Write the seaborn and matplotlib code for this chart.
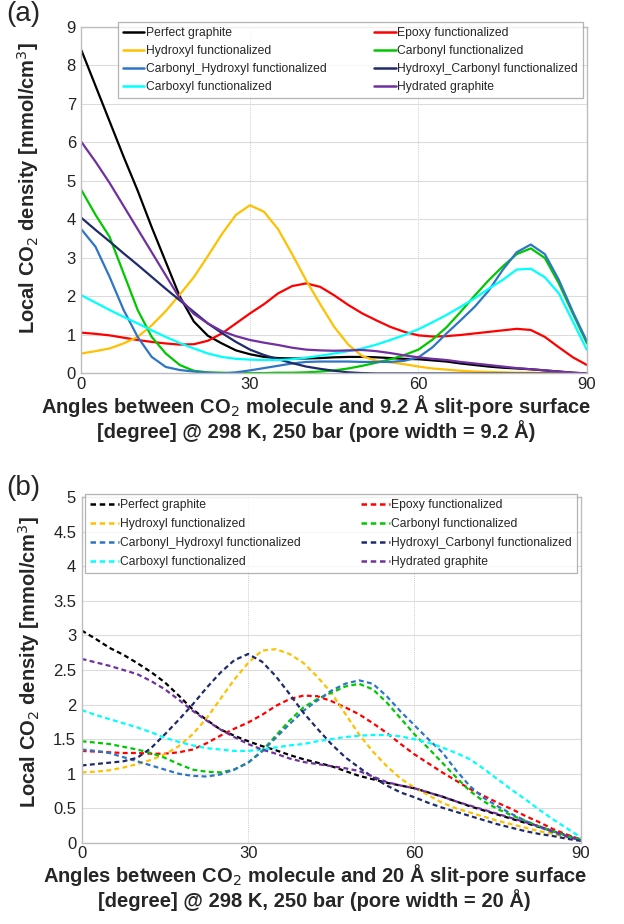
import numpy as np
import pandas as pd
import seaborn as sns
import matplotlib.pyplot as plt
from matplotlib.lines import Line2D

# angle grid (degrees), shared by every curve
angles = np.arange(0, 90.1, 2.5)

names = ["Perfect graphite", "Epoxy functionalized", "Hydroxyl functionalized",
         "Carbonyl functionalized", "Carbonyl_Hydroxyl functionalized",
         "Hydroxyl_Carbonyl functionalized", "Carboxyl functionalized",
         "Hydrated graphite"]
colors = ["#000000", "#FF0000", "#FFC000", "#00C800",
          "#2E75C6", "#1F2A6B", "#00FFFF", "#7030A0"]

# (a) 9.2 A pore
perfect_a = [8.39, 7.47, 6.55, 5.63, 4.75, 3.8, 2.9, 2.0, 1.35, 0.98, 0.78, 0.6, 0.5, 0.43, 0.4, 0.39, 0.39, 0.4, 0.42,
             0.43, 0.43, 0.42, 0.4, 0.38, 0.37, 0.34, 0.31, 0.26, 0.22, 0.18, 0.15, 0.13, 0.11, 0.08, 0.05, 0.02, 0.0]
epoxy_a = [1.06, 1.03, 0.99, 0.93, 0.87, 0.82, 0.78, 0.75, 0.76, 0.85, 1.04, 1.3, 1.56, 1.8, 2.08, 2.27, 2.34, 2.25, 2.03,
           1.78, 1.56, 1.38, 1.21, 1.08, 0.99, 0.96, 0.97, 1.0, 1.04, 1.08, 1.12, 1.16, 1.13, 0.95, 0.68, 0.42, 0.22]
hydroxyl_a = [0.52, 0.58, 0.65, 0.78, 0.95, 1.25, 1.62, 2.05, 2.5, 3.05, 3.62, 4.12, 4.37, 4.2, 3.75, 3.1, 2.42, 1.8, 1.21,
              0.75, 0.45, 0.33, 0.29, 0.24, 0.18, 0.13, 0.1, 0.07, 0.05, 0.04, 0.03, 0.02, 0.02, 0.01, 0.01, 0.0, 0.0]
carbonyl_a = [4.76, 4.12, 3.55, 2.6, 1.65, 0.95, 0.52, 0.22, 0.07, 0.03, 0.02, 0.01, 0.01, 0.01, 0.02, 0.02, 0.03, 0.05, 0.08,
              0.13, 0.2, 0.28, 0.37, 0.48, 0.62, 0.88, 1.2, 1.6, 2.02, 2.42, 2.78, 3.1, 3.25, 3.0, 2.34, 1.55, 0.78]
carb_hyd_a = [3.74, 3.29, 2.51, 1.65, 0.95, 0.43, 0.17, 0.09, 0.05, 0.02, 0.0, 0.03, 0.08, 0.14, 0.2, 0.26, 0.3, 0.31, 0.31,
              0.31, 0.3, 0.3, 0.3, 0.33, 0.42, 0.68, 1.04, 1.38, 1.73, 2.15, 2.69, 3.15, 3.35, 3.1, 2.43, 1.6, 0.83]
hyd_carb_a = [4.04, 3.73, 3.43, 3.12, 2.82, 2.51, 2.2, 1.9, 1.6, 1.3, 1.05, 0.82, 0.62, 0.48, 0.37, 0.27, 0.18, 0.12, 0.07,
              0.03, 0.01, 0.0, 0.0, 0.0, 0.0, 0.0, 0.0, 0.0, 0.0, 0.0, 0.0, 0.0, 0.0, 0.0, 0.0, 0.0, 0.0]
carboxyl_a = [2.03, 1.84, 1.65, 1.47, 1.3, 1.12, 0.95, 0.79, 0.65, 0.52, 0.43, 0.38, 0.36, 0.35, 0.35, 0.37, 0.41, 0.46, 0.52,
              0.58, 0.65, 0.75, 0.87, 1.0, 1.15, 1.33, 1.52, 1.73, 1.95, 2.2, 2.43, 2.7, 2.72, 2.5, 2.08, 1.35, 0.61]
hydrated_a = [6.01, 5.5, 4.95, 4.35, 3.75, 3.15, 2.55, 1.95, 1.55, 1.3, 1.1, 0.97, 0.87, 0.8, 0.74, 0.67, 0.62, 0.6, 0.59,
              0.6, 0.61, 0.58, 0.53, 0.47, 0.42, 0.38, 0.35, 0.3, 0.26, 0.22, 0.18, 0.14, 0.11, 0.08, 0.05, 0.02, 0.0]

# (b) 20 A pore
perfect_b = [3.07, 2.95, 2.82, 2.72, 2.6, 2.47, 2.32, 2.13, 1.93, 1.78, 1.64, 1.55, 1.47, 1.4, 1.34, 1.27, 1.21, 1.16, 1.11,
             1.04, 0.97, 0.92, 0.87, 0.83, 0.79, 0.73, 0.67, 0.6, 0.53, 0.47, 0.41, 0.35, 0.29, 0.23, 0.17, 0.11, 0.05]
epoxy_b = [1.33, 1.32, 1.31, 1.3, 1.3, 1.29, 1.29, 1.31, 1.35, 1.44, 1.55, 1.65, 1.74, 1.85, 1.98, 2.08, 2.13, 2.12, 2.05,
           1.96, 1.86, 1.73, 1.59, 1.43, 1.28, 1.15, 1.02, 0.9, 0.78, 0.68, 0.58, 0.49, 0.39, 0.3, 0.2, 0.12, 0.05]
hydroxyl_b = [1.02, 1.03, 1.05, 1.09, 1.14, 1.2, 1.28, 1.4, 1.57, 1.8, 2.08, 2.36, 2.6, 2.78, 2.8, 2.73, 2.6, 2.4, 2.17,
              1.87, 1.57, 1.32, 1.11, 0.93, 0.8, 0.69, 0.58, 0.5, 0.44, 0.38, 0.32, 0.27, 0.22, 0.17, 0.13, 0.08, 0.04]
carbonyl_b = [1.47, 1.45, 1.43, 1.39, 1.35, 1.3, 1.23, 1.14, 1.06, 1.03, 1.02, 1.06, 1.16, 1.33, 1.55, 1.77, 1.96, 2.08, 2.17,
              2.26, 2.3, 2.22, 2.03, 1.8, 1.57, 1.37, 1.16, 0.95, 0.75, 0.6, 0.49, 0.4, 0.32, 0.24, 0.17, 0.1, 0.05]
carb_hyd_b = [1.35, 1.33, 1.3, 1.24, 1.18, 1.12, 1.06, 1.0, 0.97, 0.96, 0.99, 1.06, 1.16, 1.32, 1.52, 1.72, 1.91, 2.06, 2.2,
              2.3, 2.35, 2.3, 2.12, 1.9, 1.7, 1.5, 1.31, 1.05, 0.82, 0.65, 0.53, 0.42, 0.32, 0.23, 0.15, 0.09, 0.04]
hyd_carb_b = [1.12, 1.14, 1.16, 1.18, 1.23, 1.37, 1.57, 1.78, 2.0, 2.24, 2.46, 2.64, 2.73, 2.62, 2.41, 2.15, 1.88, 1.65, 1.43,
              1.24, 1.09, 0.95, 0.83, 0.73, 0.66, 0.58, 0.51, 0.45, 0.39, 0.33, 0.27, 0.22, 0.17, 0.13, 0.1, 0.06, 0.03]
carboxyl_b = [1.92, 1.85, 1.79, 1.73, 1.67, 1.6, 1.52, 1.46, 1.41, 1.37, 1.35, 1.33, 1.33, 1.35, 1.38, 1.41, 1.43, 1.47, 1.5,
              1.53, 1.55, 1.56, 1.56, 1.54, 1.5, 1.45, 1.38, 1.3, 1.21, 1.07, 0.92, 0.77, 0.63, 0.48, 0.34, 0.21, 0.08]
hydrated_b = [2.66, 2.61, 2.56, 2.5, 2.44, 2.34, 2.22, 2.07, 1.91, 1.77, 1.64, 1.53, 1.43, 1.35, 1.29, 1.22, 1.17, 1.14, 1.11,
              1.08, 1.04, 0.96, 0.88, 0.83, 0.79, 0.73, 0.67, 0.6, 0.54, 0.48, 0.42, 0.36, 0.3, 0.24, 0.17, 0.1, 0.04]

series_a = [perfect_a, epoxy_a, hydroxyl_a, carbonyl_a, carb_hyd_a, hyd_carb_a, carboxyl_a, hydrated_a]
series_b = [perfect_b, epoxy_b, hydroxyl_b, carbonyl_b, carb_hyd_b, hyd_carb_b, carboxyl_b, hydrated_b]


def to_long(series):
    frames = [pd.DataFrame({"angle": angles, "density": vals, "structure": n})
              for n, vals in zip(names, series)]
    return pd.concat(frames, ignore_index=True)


sns.set_theme(style="whitegrid")
plt.rcParams["font.family"] = ["Liberation Sans", "DejaVu Sans"]

fig = plt.figure(figsize=(6.24, 9.24), dpi=100)
ax_a = fig.add_axes([0.1306, 0.5958, 0.810, 0.375])
ax_b = fig.add_axes([0.1309, 0.0877, 0.800, 0.3745])

palette = dict(zip(names, colors))
# legend order: two columns, filled column by column
leg_order = [0, 2, 4, 6, 1, 3, 5, 7]


def style_axes(ax, ymax, ystep, dashed, size_tag, leg_box, handlelen, labsp, xl_pos, yl_pos):
    ax.set_xlim(0, 90)
    ax.set_ylim(0, ymax)
    ax.set_xticks([0, 30, 60, 90])
    ax.set_yticks(np.arange(0, ymax + 0.01, ystep))
    ax.yaxis.set_major_formatter(plt.FormatStrFormatter("%g"))
    ax.tick_params(axis="both", length=0, labelsize=12, colors="#222222", pad=4)
    ax.tick_params(axis="x", pad=2.5)
    ax.grid(True, color="#dcdcdc", linewidth=0.8)
    ax.grid(True, axis="x", color="#cfcfcf", linewidth=0.7, linestyle=(0, (1, 1)))
    ax.set_axisbelow(True)
    for s in ax.spines.values():
        s.set_color("#bdbdbd")
        s.set_linewidth(1.0)
    ax.set_xlabel("Angles between CO$_2$ molecule and %s slit-pore surface\n"
                  "[degree] @ 298 K, 250 bar (pore width = %s)" % (size_tag, size_tag),
                  fontsize=14.5, fontweight="bold", linespacing=1.05, va="top")
    ax.xaxis.set_label_coords(*xl_pos)
    ax.set_ylabel("Local CO$_2$ density [mmol/cm$^3$]", fontsize=14.5, fontweight="bold")
    ax.yaxis.set_label_coords(*yl_pos)
    ls = (0, (2.2, 1.5)) if dashed else "-"
    handles = [Line2D([], [], color=colors[i], lw=1.8, linestyle=ls) for i in leg_order]
    labels = [names[i] for i in leg_order]
    leg = ax.legend(handles, labels, ncol=2, loc="lower left", bbox_to_anchor=leg_box,
                    mode="expand", borderaxespad=0, fontsize=8.7, handlelength=handlelen,
                    handletextpad=0.1, labelspacing=labsp, frameon=True, fancybox=False,
                    borderpad=0.4)
    leg.get_frame().set_edgecolor("#a0a0a0")
    leg.get_frame().set_linewidth(0.9)


sns.lineplot(data=to_long(series_a), x="angle", y="density", hue="structure",
             hue_order=names, palette=palette, linewidth=1.6, legend=False, ax=ax_a)
style_axes(ax_a, 9, 1, False, "9.2 Å", (0.072, 0.795, 0.92, 0.196), 1.8, 0.5,
           (0.464, -0.056), (-0.08, 0.535))

sns.lineplot(data=to_long(series_b), x="angle", y="density", hue="structure",
             hue_order=names, palette=palette, linewidth=1.6, legend=False, ax=ax_b)
for ln in ax_b.lines:
    ln.set_linestyle((0, (2.2, 1.5)))
style_axes(ax_b, 5, 0.5, True, "20 Å", (0.007, 0.78, 0.985, 0.214), 2.4, 0.58,
           (0.467, -0.056), (-0.08, 0.523))

fig.text(0.01, 0.999, "(a)", fontsize=20, va="top", ha="left")
fig.text(0.01, 0.486, "(b)", fontsize=20, va="top", ha="left")

fig.savefig("out.png", dpi=100)
